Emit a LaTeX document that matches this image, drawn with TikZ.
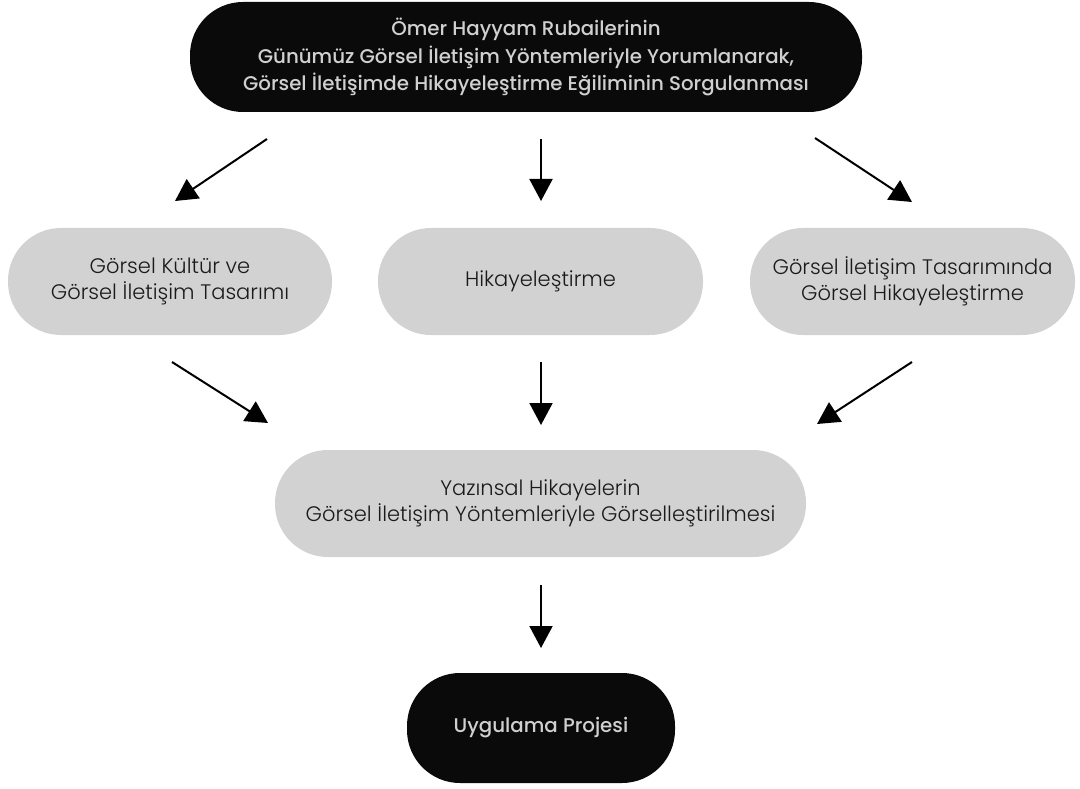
\documentclass[tikz,border=0pt]{standalone}
\usepackage{fontspec}
\setmainfont{Poppins}
\newfontfamily\lightfont{Poppins Light}
\newfontfamily\medfont{Poppins Medium}
\usetikzlibrary{arrows.meta}
\definecolor{boxgray}{HTML}{D2D2D2}
\definecolor{boxblack}{HTML}{0A0A0A}
\definecolor{txtlight}{HTML}{D0D0D0}
\definecolor{txtdark}{HTML}{1A1A1A}
\begin{document}
\begin{tikzpicture}[x=1pt,y=-1pt,
  pill/.style={rounded corners=53pt, inner sep=0pt, align=center},
  darkpill/.style={pill, fill=boxblack, text=txtlight, font=\medfont\fontsize{19.8}{27.5}\selectfont},
  lightpill/.style={pill, fill=boxgray, text=txtdark, font=\lightfont\fontsize{21}{26}\selectfont},
  arr/.style={line width=2pt, -{Triangle[length=22pt,width=23pt]}}
]
\useasboundingbox (0,0) rectangle (1080,789);
\fill[white] (0,0) rectangle (1080,789);

\node[darkpill, minimum width=672pt, minimum height=110pt] (top) at (526,57)
  {Ömer Hayyam Rubailerinin\\Günümüz Görsel İletişim Yöntemleriyle Yorumlanarak,\\Görsel İletişimde Hikayeleştirme Eğiliminin Sorgulanması};
\node[lightpill, minimum width=324pt, minimum height=107pt] (left) at (170,281.5)
  {Görsel Kültür ve\\Görsel İletişim Tasarımı};
\node[lightpill, minimum width=325pt, minimum height=107pt] (mid) at (540.5,281.5)
  {Hikayeleştirme};
\node[lightpill, minimum width=325pt, minimum height=107pt] (right) at (912.5,281.5)
  {Görsel İletişim Tasarımında\\Görsel Hikayeleştirme};
\node[lightpill, minimum width=531pt, minimum height=107pt] (main) at (540.5,503.5)
  {Yazınsal Hikayelerin\\Görsel İletişim Yöntemleriyle Görselleştirilmesi};
\node[darkpill, minimum width=268pt, minimum height=110pt] (proj) at (541,728)
  {Uygulama Projesi};

\coordinate (a1s) at (267,139); \coordinate (a1e) at (175,201);
\coordinate (a2s) at (541,139); \coordinate (a2e) at (541,201);
\coordinate (a3s) at (815,138); \coordinate (a3e) at (912,202);
\coordinate (b1s) at (172,362); \coordinate (b1e) at (268,423);
\coordinate (b2s) at (541,362); \coordinate (b2e) at (541,425);
\coordinate (b3s) at (912,362); \coordinate (b3e) at (817,424);
\coordinate (c1s) at (541,585); \coordinate (c1e) at (541,648);

\draw[arr] (a1s) -- (a1e);
\draw[arr] (a2s) -- (a2e);
\draw[arr] (a3s) -- (a3e);
\draw[arr] (b1s) -- (b1e);
\draw[arr] (b2s) -- (b2e);
\draw[arr] (b3s) -- (b3e);
\draw[arr] (c1s) -- (c1e);
\end{tikzpicture}
\end{document}
